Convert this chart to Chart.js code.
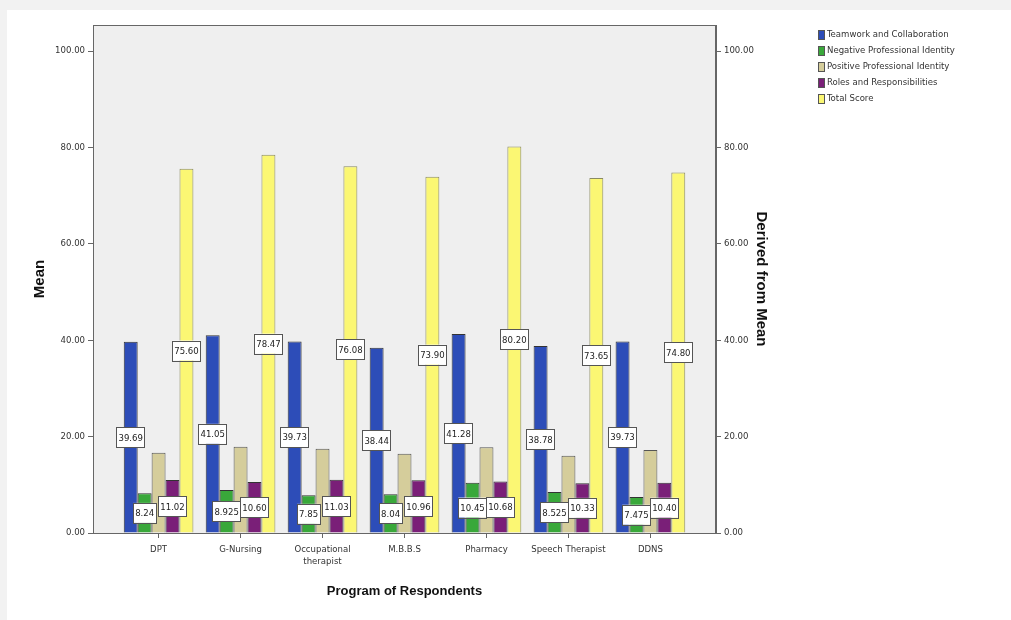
<!DOCTYPE html>
<html>
<head>
<meta charset="utf-8">
<script src="https://cdn.jsdelivr.net/npm/chart.js@4.4.1/dist/chart.umd.min.js"></script>
<style>
  body { margin: 0; background: #fff; }
  canvas { display: block; }
</style>
</head>
<body>
<canvas id="meanChart" width="1011" height="620"></canvas>
<script>
// Program of respondents and the mean of each scale
const categories = ['DPT', 'G-Nursing', ['Occupational', 'therapist'], 'M.B.B.S', 'Pharmacy', 'Speech Therapist', 'DDNS'];
const teamwork = [39.69, 41.05, 39.73, 38.44, 41.28, 38.78, 39.73];
const negativeIdentity = [8.24, 8.925, 7.85, 8.04, 10.45, 8.525, 7.475];
const positiveIdentity = [16.65, 17.90, 17.47, 16.46, 17.79, 16.02, 17.20];
const roles = [11.02, 10.60, 11.03, 10.96, 10.68, 10.33, 10.40];
const totalScore = [75.60, 78.47, 76.08, 73.90, 80.20, 73.65, 74.80];
const yTicks = [0, 20, 40, 60, 80, 100];

const FONT = "'Liberation Sans Narrow', 'DejaVu Sans Condensed', 'Liberation Sans', sans-serif";
const TITLE_FONT = "'Liberation Sans', Arial, sans-serif";

function points(values) {
    return values.map((v, i) => ({ x: i, y: v }));
}

function formatValue(v) {
    // SPSS shows 2 decimals unless the mean needs 3
    return Math.abs(v * 100 - Math.round(v * 100)) > 1e-6 ? v.toFixed(3) : v.toFixed(2);
}

function makeDataset(label, values, color, border, showLabels) {
    return {
        label: label,
        data: points(values),
        backgroundColor: color,
        borderColor: border,
        borderWidth: 1,
        showLabels: showLabels
    };
}

// gray plot area, frame, page strips
const backgroundPlugin = {
    id: 'spssBackground',
    beforeDraw(chart) {
        const ctx = chart.ctx;
        const a = chart.chartArea;
        ctx.save();
        ctx.fillStyle = '#ffffff';
        ctx.fillRect(0, 0, chart.width, chart.height);
        ctx.fillStyle = '#f2f2f2';
        ctx.fillRect(0, 0, chart.width, 10);
        ctx.fillRect(0, 0, 7, chart.height);
        ctx.fillStyle = '#efefef';
        ctx.fillRect(a.left, a.top, a.right - a.left, a.bottom - a.top);
        ctx.restore();
    },
    afterDraw(chart) {
        const ctx = chart.ctx;
        const a = chart.chartArea;
        ctx.save();
        ctx.strokeStyle = '#666';
        ctx.lineWidth = 1;
        ctx.strokeRect(a.left + 0.5, a.top + 0.5, a.right - a.left - 1, a.bottom - a.top);
        ctx.restore();
    }
};

// boxed value labels in the middle of the bars
const valueLabelPlugin = {
    id: 'valueLabels',
    afterDatasetsDraw(chart) {
        const ctx = chart.ctx;
        ctx.save();
        ctx.font = '9.5px ' + FONT;
        ctx.textAlign = 'center';
        ctx.textBaseline = 'middle';
        chart.data.datasets.forEach((ds, di) => {
            if (!ds.showLabels) return;
            chart.getDatasetMeta(di).data.forEach((bar, i) => {
                const text = formatValue(ds.data[i].y);
                const w = ctx.measureText(text).width + 4;
                const h = 20;
                const cx = bar.x;
                const cy = (bar.y + bar.base) / 2;
                ctx.fillStyle = '#ffffff';
                ctx.fillRect(cx - w / 2, cy - h / 2, w, h);
                ctx.strokeStyle = '#555';
                ctx.lineWidth = 1;
                ctx.strokeRect(Math.round(cx - w / 2) + 0.5, Math.round(cy - h / 2) + 0.5, Math.round(w), h);
                ctx.fillStyle = '#222';
                ctx.fillText(text, cx, cy + 1);
            });
        });
        ctx.restore();
    }
};

// legend in the top right corner
const legendPlugin = {
    id: 'spssLegend',
    afterDraw(chart) {
        const ctx = chart.ctx;
        ctx.save();
        ctx.font = '9.5px ' + FONT;
        ctx.textBaseline = 'middle';
        chart.data.datasets.forEach((ds, i) => {
            const y = 35 + i * 16;
            ctx.fillStyle = ds.backgroundColor;
            ctx.fillRect(818, y - 5, 7, 10);
            ctx.strokeStyle = '#555';
            ctx.strokeRect(818.5, y - 4.5, 6, 9);
            ctx.fillStyle = '#333';
            ctx.fillText(ds.label, 827, y);
        });
        ctx.restore();
    }
};

const tickFont = { family: FONT, size: 9.5 };
const titleFont = { family: TITLE_FONT, size: 13, weight: 'bold' };
const sideTitleFont = { family: TITLE_FONT, size: 15, weight: 'bold' };

function yScale(position, width, title, titlePad) {
    return {
        type: 'linear',
        position: position,
        min: 0,
        max: 105.4,
        afterFit: s => { s.width = width; },
        afterBuildTicks: s => { s.ticks = yTicks.map(v => ({ value: v })); },
        ticks: {
            callback: v => v.toFixed(2),
            font: tickFont,
            color: '#333',
            padding: 3
        },
        grid: { drawOnChartArea: false, drawTicks: true, tickLength: 5, color: '#666' },
        border: { color: '#666' },
        title: { display: true, text: title, font: sideTitleFont, color: '#111', padding: { top: titlePad, bottom: 0 } }
    };
}

new Chart(document.getElementById('meanChart'), {
    type: 'bar',
    data: {
        datasets: [
            makeDataset('Teamwork and Collaboration', teamwork, '#2d4db8', '#333', true),
            makeDataset('Negative Professional Identity', negativeIdentity, '#39a83a', '#333', true),
            makeDataset('Positive Professional Identity', positiveIdentity, '#d5cd9b', '#555', false),
            makeDataset('Roles and Responsibilities', roles, '#7a1f78', '#333', true),
            makeDataset('Total Score', totalScore, '#fbf773', '#8a8a62', true)
        ]
    },
    options: {
        responsive: false,
        animation: false,
        devicePixelRatio: 1,
        categoryPercentage: 0.85,
        barPercentage: 1.0,
        layout: { padding: { top: 25, right: 235, bottom: 0, left: 0 } },
        plugins: {
            legend: { display: false },
            tooltip: { enabled: false }
        },
        scales: {
            x: {
                type: 'linear',
                position: 'bottom',
                offset: false,
                min: -0.8,
                max: 6.8,
                afterFit: s => { s.height = 87; },
                afterBuildTicks: s => { s.ticks = categories.map((c, i) => ({ value: i })); },
                ticks: {
                    callback: v => categories[v],
                    autoSkip: false,
                    maxRotation: 0,
                    font: tickFont,
                    color: '#333',
                    padding: 6
                },
                grid: { offset: false, drawOnChartArea: false, drawTicks: true, tickLength: 5, color: '#666' },
                border: { color: '#666' },
                title: {
                    display: true,
                    text: 'Program of Respondents',
                    font: titleFont,
                    color: '#111',
                    padding: { top: 0, bottom: 21 }
                }
            },
            y: yScale('left', 93, 'Mean', 31),
            y2: yScale('right', 60, 'Derived from Mean', 6)
        }
    },
    plugins: [backgroundPlugin, valueLabelPlugin, legendPlugin]
});
</script>
</body>
</html>
